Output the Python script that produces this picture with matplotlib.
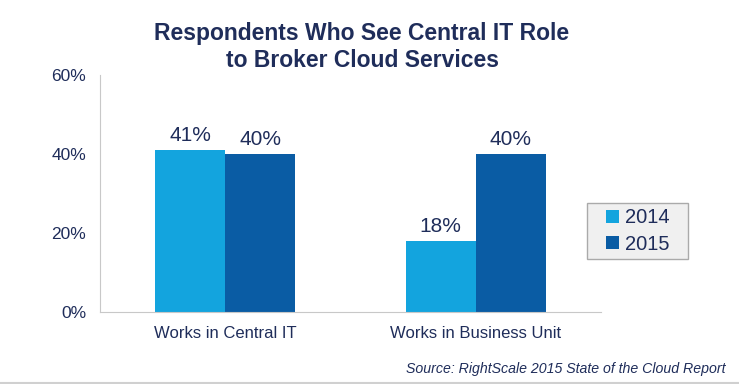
import matplotlib.pyplot as plt
from matplotlib.patches import Rectangle
import numpy as np

plt.rcParams['font.family'] = ['Liberation Sans', 'DejaVu Sans']

categories = ['Works in Central IT', 'Works in Business Unit']
years = ['2014', '2015']
values_2014 = [41, 18]
values_2015 = [40, 40]
yticks = [0, 20, 40, 60]

navy = '#1F2D5A'
colors = ['#13A4DE', '#0A5CA4']

fig = plt.figure(figsize=(7.39, 3.84), dpi=100)
ax = fig.add_axes([100 / 739, 1 - 312 / 384, 501 / 739, 237 / 384])

x = np.arange(len(categories))
w = 0.28
bars1 = ax.bar(x - w / 2, values_2014, w, color=colors[0], label=years[0])
bars2 = ax.bar(x + w / 2, values_2015, w, color=colors[1], label=years[1])

for bars in (bars1, bars2):
    for b in bars:
        ax.text(b.get_x() + b.get_width() / 2, b.get_height() + 1.3, f'{b.get_height():.0f}%',
                ha='center', va='bottom', fontsize=15, color=navy)

ax.set_xlim(-0.5, 1.5)
ax.set_ylim(0, 60)
ax.set_yticks(yticks)
ax.set_yticklabels([f'{t}%' for t in yticks], fontsize=12.5, color=navy)
ax.set_xticks(x)
ax.set_xticklabels(categories, fontsize=12, color=navy)
ax.tick_params(length=0)
ax.tick_params(axis='y', pad=10)
ax.tick_params(axis='x', pad=10)
for s in ['top', 'right']:
    ax.spines[s].set_visible(False)
for s in ['left', 'bottom']:
    ax.spines[s].set_color('#C8C8C8')

# legend box drawn by hand so the padding can differ per side
fig.add_artist(Rectangle((587 / 739, 1 - 259 / 384), 101 / 739, 56 / 384, transform=fig.transFigure,
                         facecolor='#F0F0F0', edgecolor='#AAAAAA', lw=1, zorder=1))
leg = fig.legend(loc='center', bbox_to_anchor=(637.5 / 739, 1 - 231 / 384), fontsize=14.5,
                 handlelength=0.65, handleheight=0.65, handletextpad=0.3, labelspacing=0.35,
                 frameon=False, borderpad=0, borderaxespad=0)
leg.set_zorder(2)
for t in leg.get_texts():
    t.set_color(navy)

fig.text(362 / 739, 1 - 47 / 384, 'Respondents Who See Central IT Role\nto Broker Cloud Services',
         ha='center', va='center', fontsize=16.5, fontweight='bold', color=navy, linespacing=1.2)
fig.text(726 / 739, 1 - 369 / 384, 'Source: RightScale 2015 State of the Cloud Report',
         ha='right', va='center', fontsize=10.2, style='italic', color=navy)

fig.add_artist(plt.Line2D([0, 1], [0.003, 0.003], color='#D0D0D0', lw=1.5, transform=fig.transFigure))

fig.savefig('out.png', dpi=100)
